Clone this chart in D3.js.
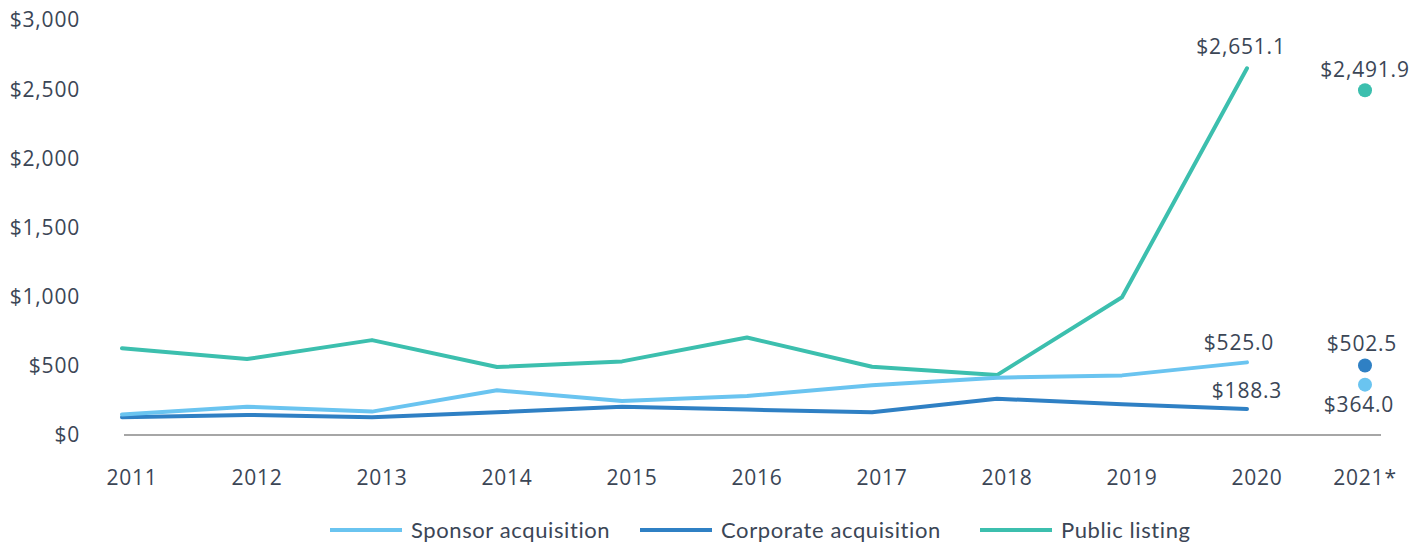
<!DOCTYPE html>
<html>
<head>
<meta charset="utf-8">
<script src="https://cdn.jsdelivr.net/npm/d3@7"></script>
<style>
  body { margin: 0; background: #fff; }
  svg text { fill: #3b4656; }
  .num { font-family: "Open Sans"; font-size: 21px; letter-spacing: 0.8px; }
</style>
</head>
<body>
<svg id="chart" width="1425" height="544"></svg>
<script>
// data
const years = ["2011", "2012", "2013", "2014", "2015", "2016", "2017", "2018", "2019", "2020", "2021*"];
const lineYears = years.slice(0, 10);
const sponsor = [149, 205, 169, 323, 246, 282, 359, 414, 431, 525.0];
const corporate = [128, 145, 128, 164, 205, 184, 164, 262, 222, 188.3];
const publicListing = [627, 549, 686, 491, 532, 705, 493, 433, 996, 2651.1];
const partial2021 = { sponsor: 364.0, corporate: 502.5, publicListing: 2491.9 };
const yTicks = [0, 500, 1000, 1500, 2000, 2500, 3000];

const series = [
  { key: "sponsor", name: "Sponsor acquisition", color: "#6ac4f0", values: sponsor },
  { key: "corporate", name: "Corporate acquisition", color: "#2f80c4", values: corporate },
  { key: "publicListing", name: "Public listing", color: "#3cbfae", values: publicListing }
];

const svg = d3.select("#chart");

const x = d3.scalePoint().domain(years).range([122, 1372]);
const y = d3.scaleLinear().domain([0, 3000]).range([435, 20]);
const fmt = d3.format("$,.1f");
const dotX = x("2021*") - 7;

// y axis labels (no axis line)
svg.append("g").selectAll("text")
  .data(yTicks)
  .enter().append("text")
  .attr("class", "num")
  .attr("x", 80)
  .attr("y", d => y(d))
  .attr("dy", "0.35em")
  .attr("text-anchor", "end")
  .text(d => d3.format("$,")(d));

// baseline
svg.append("line")
  .attr("x1", 124).attr("x2", 1381)
  .attr("y1", y(0)).attr("y2", y(0))
  .attr("stroke", "#a6a6a6").attr("stroke-width", 2);

// x labels
svg.append("g").selectAll("text")
  .data(years)
  .enter().append("text")
  .attr("class", "num")
  .attr("x", d => d === "2021*" ? dotX : x(d) + 10)
  .attr("y", 485)
  .attr("text-anchor", "middle")
  .text(d => d);

const line = d3.line()
  .x((d, i) => x(lineYears[i]))
  .y(d => y(d));

svg.append("g").selectAll("path")
  .data(series.slice().reverse())
  .enter().append("path")
  .attr("d", d => line(d.values))
  .attr("fill", "none")
  .attr("stroke", d => d.color)
  .attr("stroke-width", 4)
  .attr("stroke-linecap", "round")
  .attr("stroke-linejoin", "round");

// 2021 dots
svg.append("g").selectAll("circle")
  .data(series)
  .enter().append("circle")
  .attr("cx", dotX)
  .attr("cy", d => y(partial2021[d.key]))
  .attr("r", 7)
  .attr("fill", d => d.color);

// value labels
const labels = [
  { x: x("2020") - 6, y: y(publicListing[9]) - 14, v: publicListing[9] },
  { x: x("2020") - 8, y: y(sponsor[9]) - 12, v: sponsor[9] },
  { x: x("2020"), y: y(corporate[9]) - 11, v: corporate[9] },
  { x: dotX, y: y(partial2021.publicListing) - 13, v: partial2021.publicListing },
  { x: dotX - 3, y: y(partial2021.corporate) - 14, v: partial2021.corporate },
  { x: dotX - 6, y: y(partial2021.sponsor) + 27, v: partial2021.sponsor }
];
svg.append("g").selectAll("text")
  .data(labels)
  .enter().append("text")
  .attr("class", "num")
  .attr("x", d => d.x)
  .attr("y", d => d.y)
  .attr("text-anchor", "middle")
  .text(d => fmt(d.v));

// legend
const legendX = [330, 640, 980];
const legend = svg.append("g").selectAll("g")
  .data(series)
  .enter().append("g")
  .attr("transform", (d, i) => `translate(${legendX[i]},530)`);
legend.append("line")
  .attr("x1", 0).attr("x2", 72)
  .attr("stroke", d => d.color)
  .attr("stroke-width", 4);
legend.append("text")
  .attr("x", 81)
  .attr("dy", "0.35em")
  .style("font-family", "Lato")
  .style("font-size", "22px")
  .style("letter-spacing", "0.6px")
  .text(d => d.name);
</script>
</body>
</html>
